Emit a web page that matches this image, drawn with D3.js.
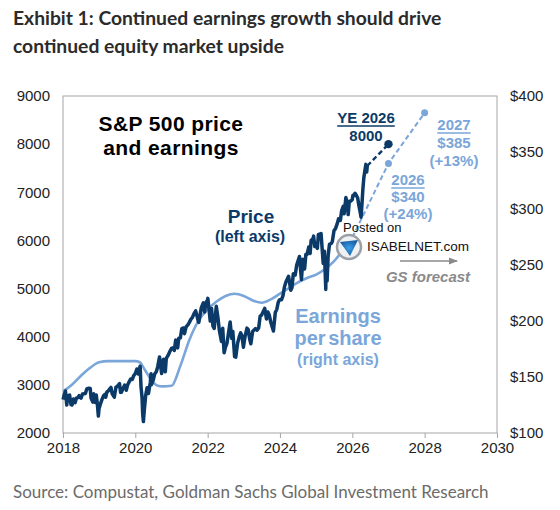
<!DOCTYPE html>
<html lang="en">
<head>
<meta charset="UTF-8">
<title>S&amp;P 500 price and earnings</title>
<script src="https://d3js.org/d3.v7.min.js"></script>
<style>
  body { margin: 0; background: #fff; }
  svg text { font-family: "Liberation Sans", Arial, sans-serif; }
  .title { font-family: Lato, "Noto Sans", sans-serif; font-weight: 700; font-size: 19.3px; fill: #2b2b2b; }
  .source { font-family: Lato, "Noto Sans", sans-serif; font-size: 17px; fill: #6b6b6b; }
  .tick text { font-size: 15px; fill: #222; }
  .frame { fill: none; stroke: #a6a6a6; stroke-width: 1; }
</style>
</head>
<body>
<script>
// S&P 500 level, roughly twice a month
var priceSeries = [
  ["2018-01-02",2695],["2018-01-12",2786],["2018-01-26",2873],["2018-02-08",2581],["2018-02-16",2732],
  ["2018-02-26",2780],["2018-03-09",2786],["2018-03-23",2588],["2018-04-02",2582],["2018-04-17",2706],
  ["2018-05-03",2630],["2018-05-16",2722],["2018-06-01",2735],["2018-06-13",2776],["2018-07-02",2726],
  ["2018-07-17",2809],["2018-08-01",2813],["2018-08-15",2818],["2018-08-29",2914],["2018-09-20",2931],
  ["2018-10-03",2926],["2018-10-11",2728],["2018-10-29",2641],["2018-11-07",2814],["2018-11-23",2633],
  ["2018-12-03",2790],["2018-12-14",2600],["2018-12-24",2351],["2018-12-31",2507],
  ["2019-01-15",2610],["2019-01-31",2704],["2019-02-15",2776],["2019-03-01",2804],["2019-03-08",2743],
  ["2019-03-21",2855],["2019-04-01",2867],["2019-04-15",2905],["2019-04-30",2946],["2019-05-13",2812],
  ["2019-06-03",2744],["2019-06-20",2954],["2019-07-01",2964],["2019-07-26",3025],["2019-08-05",2844],
  ["2019-08-15",2848],["2019-08-30",2926],["2019-09-16",2998],["2019-10-02",2888],["2019-10-15",2996],
  ["2019-11-01",3067],["2019-11-15",3120],["2019-12-02",3113],["2019-12-16",3191],["2019-12-31",3231],
  ["2020-01-17",3330],["2020-01-31",3226],["2020-02-19",3386],["2020-02-28",2954],["2020-03-09",2747],
  ["2020-03-16",2386],["2020-03-23",2237],["2020-04-01",2470],["2020-04-15",2783],["2020-04-29",2939],
  ["2020-05-13",2820],["2020-06-01",3055],["2020-06-08",3232],["2020-06-11",3002],["2020-06-30",3100],
  ["2020-07-15",3227],["2020-07-31",3271],["2020-08-14",3373],["2020-09-02",3580],["2020-09-23",3237],
  ["2020-10-12",3534],["2020-10-30",3270],["2020-11-09",3550],["2020-11-30",3622],["2020-12-15",3694],
  ["2020-12-31",3756],
  ["2021-01-15",3768],["2021-01-29",3714],["2021-02-12",3934],["2021-03-04",3768],["2021-03-15",3969],
  ["2021-03-31",3973],["2021-04-15",4170],["2021-04-30",4181],["2021-05-12",4063],["2021-05-28",4204],
  ["2021-06-15",4246],["2021-06-30",4298],["2021-07-15",4360],["2021-07-30",4395],["2021-08-16",4479],
  ["2021-09-02",4537],["2021-09-30",4308],["2021-10-04",4300],["2021-10-29",4605],["2021-11-18",4704],
  ["2021-12-01",4513],["2021-12-15",4709],["2021-12-31",4766],
  ["2022-01-03",4796],["2022-01-27",4326],["2022-02-09",4587],["2022-02-23",4225],["2022-03-08",4170],
  ["2022-03-29",4632],["2022-04-15",4392],["2022-04-29",4132],["2022-05-20",3901],["2022-06-02",4177],
  ["2022-06-16",3667],["2022-06-30",3785],["2022-07-15",3863],["2022-08-16",4305],["2022-09-01",3966],
  ["2022-09-12",4110],["2022-09-30",3586],["2022-10-12",3577],["2022-10-31",3872],["2022-11-15",3992],
  ["2022-11-30",4080],["2022-12-13",4019],["2022-12-28",3783],
  ["2023-01-13",3999],["2023-02-02",4179],["2023-02-15",4147],["2023-03-01",3951],["2023-03-13",3855],
  ["2023-03-31",4109],["2023-04-14",4137],["2023-04-28",4169],["2023-05-15",4136],["2023-05-31",4180],
  ["2023-06-15",4426],["2023-06-30",4450],["2023-07-31",4589],["2023-08-18",4370],["2023-09-01",4515],
  ["2023-09-15",4450],["2023-10-02",4288],["2023-10-27",4117],["2023-11-15",4502],["2023-11-30",4568],
  ["2023-12-15",4719],["2023-12-29",4770],
  ["2024-01-16",4766],["2024-01-31",4846],["2024-02-15",5030],["2024-03-01",5137],["2024-03-28",5254],
  ["2024-04-19",4967],["2024-05-01",5018],["2024-05-15",5308],["2024-06-03",5283],["2024-06-18",5487],
  ["2024-07-16",5667],["2024-08-05",5186],["2024-08-19",5608],["2024-09-06",5408],["2024-09-19",5713],
  ["2024-10-01",5709],["2024-10-18",5864],["2024-11-01",5729],["2024-11-11",6001],["2024-11-29",6032],
  ["2024-12-06",6090],["2024-12-18",5872],["2024-12-31",5882],
  ["2025-01-13",5836],["2025-01-23",6119],["2025-02-19",6144],["2025-03-13",5522],["2025-03-25",5777],
  ["2025-04-08",4982],["2025-04-09",5457],["2025-04-21",5158],["2025-05-02",5687],["2025-05-15",5917],
  ["2025-06-02",5936],["2025-06-13",5977],["2025-06-30",6205],["2025-07-15",6244],["2025-07-31",6339],
  ["2025-08-15",6449],["2025-09-02",6416],["2025-09-15",6615],["2025-10-01",6711],["2025-10-10",6553],
  ["2025-10-28",6891],["2025-11-13",6737],["2025-11-20",6538],["2025-12-01",6812],["2025-12-15",6816],
  ["2025-12-31",6845],
  ["2026-01-07",6940],["2026-01-16",6930],["2026-01-28",6980],["2026-02-10",6940],["2026-02-24",6880],
  ["2026-03-06",6750],["2026-03-20",6600],["2026-03-30",6480],["2026-04-09",6780],["2026-04-17",7050],
  ["2026-04-27",7300],["2026-05-08",7450],["2026-05-18",7580],["2026-05-26",7420],["2026-06-01",7550]
];

// trailing EPS, right axis
var epsSeries = [
  ["2018-01-01",137],["2018-04-01",143],["2018-07-01",151],["2018-10-01",158],["2019-01-01",163],
  ["2019-04-01",164],["2019-07-01",164],["2019-10-01",164],["2020-01-01",164],["2020-02-15",163],
  ["2020-04-01",157],["2020-07-01",145],["2020-08-15",142],["2020-10-01",141.5],["2021-01-01",142],
  ["2021-04-01",160],["2021-07-01",183],["2021-10-01",200],["2022-01-01",210],["2022-04-01",217],
  ["2022-07-01",222],["2022-10-01",224],["2023-01-01",222],["2023-04-01",218],["2023-07-01",216],
  ["2023-10-01",219],["2024-01-01",224],["2024-04-01",229],["2024-07-01",234],["2024-10-01",238],
  ["2025-01-01",241],["2025-04-01",246],["2025-07-01",253],["2025-10-01",263],["2026-01-01",274]
];

// GS forecasts
var priceTargetDate = "2027-01-01", priceTarget = 8000;
var epsForecastDates = ["2027-01-01", "2028-01-01"];
var epsForecastValues = [340, 385];

var leftTicks = [2000, 3000, 4000, 5000, 6000, 7000, 8000, 9000];
var rightTicks = [100, 150, 200, 250, 300, 350, 400];
var yearTicks = [2018, 2020, 2022, 2024, 2026, 2028, 2030];

var navy = "#0b3a68", light = "#7aa6da", grey = "#8a8a8a";

var width = 560, height = 510;
var plot = {left: 63, right: 497, top: 96, bottom: 433};

var parse = d3.timeParse("%Y-%m-%d");

var x = d3.scaleTime()
    .domain([new Date(2018, 0, 1), new Date(2030, 0, 1)])
    .range([plot.left, plot.right]);
var yL = d3.scaleLinear().domain([2000, 9000]).range([plot.bottom, plot.top]);
var yR = d3.scaleLinear().domain([100, 400]).range([plot.bottom, plot.top]);

var svg = d3.select("body").append("svg")
    .attr("width", width).attr("height", height);

// title + source
svg.append("text").attr("class", "title").attr("x", 13).attr("y", 25)
   .text("Exhibit 1: Continued earnings growth should drive");
svg.append("text").attr("class", "title").attr("x", 13).attr("y", 53)
   .text("continued equity market upside");
svg.append("text").attr("class", "source").attr("x", 13).attr("y", 498)
   .text("Source: Compustat, Goldman Sachs Global Investment Research");

// frame
svg.append("rect").attr("class", "frame")
   .attr("x", plot.left).attr("y", plot.top)
   .attr("width", plot.right - plot.left).attr("height", plot.bottom - plot.top);

// axes
var xAxis = svg.append("g").attr("transform", "translate(0," + plot.bottom + ")")
   .call(d3.axisBottom(x).tickValues(yearTicks.map(function(y){ return new Date(y, 0, 1); }))
        .tickFormat(d3.timeFormat("%Y")).tickSize(5).tickPadding(4));
xAxis.select(".domain").remove();
xAxis.selectAll(".tick line").attr("stroke", "#a6a6a6");

var leftAxis = svg.append("g").attr("transform", "translate(" + plot.left + ",0)")
   .call(d3.axisLeft(yL).tickValues(leftTicks).tickFormat(d3.format("d")).tickSize(0).tickPadding(13));
leftAxis.select(".domain").remove();

var rightAxis = svg.append("g").attr("transform", "translate(" + plot.right + ",0)")
   .call(d3.axisRight(yR).tickValues(rightTicks).tickFormat(function(d){ return "$" + d; })
        .tickSize(0).tickPadding(13));
rightAxis.select(".domain").remove();

// EPS line
var epsLine = d3.line()
    .x(function(d){ return x(parse(d[0])); })
    .y(function(d){ return yR(d[1]); })
    .curve(d3.curveMonotoneX);
svg.append("path").attr("d", epsLine(epsSeries))
   .attr("fill", "none").attr("stroke", light).attr("stroke-width", 2.6);

// EPS forecast dashes
var epsLast = epsSeries[epsSeries.length - 1];
var epsFc = [[x(parse(epsLast[0])), yR(epsLast[1])]];
epsForecastDates.forEach(function(d, i){ epsFc.push([x(parse(d)), yR(epsForecastValues[i])]); });
svg.append("path").attr("d", d3.line()(epsFc))
   .attr("fill", "none").attr("stroke", light).attr("stroke-width", 2).attr("stroke-dasharray", "5,3");
svg.selectAll(".epsDot").data(epsFc.slice(1)).enter().append("circle")
   .attr("cx", function(d){ return d[0]; }).attr("cy", function(d){ return d[1]; })
   .attr("r", 3.5).attr("fill", light);

// price line
var priceLine = d3.line()
    .x(function(d){ return x(parse(d[0])); })
    .y(function(d){ return yL(d[1]); });
svg.append("path").attr("d", priceLine(priceSeries))
   .attr("fill", "none").attr("stroke", navy).attr("stroke-width", 3.5)
   .attr("stroke-linejoin", "round");

var pLast = priceSeries[priceSeries.length - 1];
svg.append("path")
   .attr("d", d3.line()([[x(parse(pLast[0])), yL(pLast[1])], [x(parse(priceTargetDate)), yL(priceTarget)]]))
   .attr("fill", "none").attr("stroke", navy).attr("stroke-width", 2.4).attr("stroke-dasharray", "5,3");
svg.append("circle").attr("cx", x(parse(priceTargetDate))).attr("cy", yL(priceTarget))
   .attr("r", 4.2).attr("fill", navy);

// labels
function label(txt, px, py, size, color, anchor, extra) {
  var t = svg.append("text").attr("x", px).attr("y", py)
     .attr("text-anchor", anchor || "start")
     .style("font-size", size + "px").style("font-weight", "bold").attr("fill", color).text(txt);
  if (extra) extra(t);
  return t;
}
function underline(t, color) {
  var b = t.node().getBBox();
  svg.append("line").attr("x1", b.x).attr("x2", b.x + b.width)
     .attr("y1", +t.attr("y") + 3).attr("y2", +t.attr("y") + 3)
     .attr("stroke", color).attr("stroke-width", 1.5);
}

label("S&P 500 price", 171, 131, 21, "#000", "middle", function(t){ t.style("letter-spacing", "0.4px"); });
label("and earnings", 171, 155, 21, "#000", "middle", function(t){ t.style("letter-spacing", "0.4px"); });

label("Price", 251, 223, 19, navy, "middle");
label("(left axis)", 250, 242, 16, navy, "middle");

underline(label("YE 2026", 366, 123, 15, navy, "middle"), navy);
label("8000", 366, 141, 15, navy, "middle");

underline(label("2027", 454, 130, 15, light, "middle"), light);
label("$385", 454, 148, 15, light, "middle");
label("(+13%)", 454, 166, 15, light, "middle");

underline(label("2026", 408, 185, 15, light, "middle"), light);
label("$340", 408, 202, 15, light, "middle");
label("(+24%)", 408, 219, 15, light, "middle");

label("Earnings", 338, 323, 20, light, "middle");
label("per share", 338, 345, 20, light, "middle", function(t){ t.style("word-spacing", "-3px"); });
label("(right axis)", 338, 365, 16, light, "middle");

// GS forecast arrow
svg.append("defs").append("marker").attr("id", "arr")
   .attr("viewBox", "0 0 10 10").attr("refX", 9).attr("refY", 5)
   .attr("markerWidth", 7).attr("markerHeight", 7).attr("orient", "auto")
   .append("path").attr("d", "M0,1L10,5L0,9Z").attr("fill", grey);
svg.append("line").attr("x1", 400).attr("x2", 457).attr("y1", 261).attr("y2", 261)
   .attr("stroke", grey).attr("stroke-width", 1.3).attr("marker-end", "url(#arr)");
label("GS forecast", 428, 282, 15, grey, "middle", function(t){ t.style("font-style", "italic"); });

// watermark
var wm = svg.append("g");
var grad = svg.select("defs").append("radialGradient").attr("id", "lg");
grad.append("stop").attr("offset", "0%").attr("stop-color", "#3aa0e8");
grad.append("stop").attr("offset", "100%").attr("stop-color", "#1c5fa8");
wm.append("circle").attr("cx", 349).attr("cy", 247).attr("r", 12)
  .attr("fill", "#eef0f2").attr("stroke", "#9aa0a6").attr("stroke-width", 2.5);
wm.append("path").attr("d", "M340,242 L358,240 L350,256 Z").attr("fill", "url(#lg)");
wm.append("text").attr("x", 343).attr("y", 232).style("font-size", "13px").attr("fill", "#111").text("Posted on");
wm.append("text").attr("x", 367).attr("y", 251).style("font-size", "13.5px").attr("fill", "#111").text("ISABELNET.com");
</script>
</body>
</html>
